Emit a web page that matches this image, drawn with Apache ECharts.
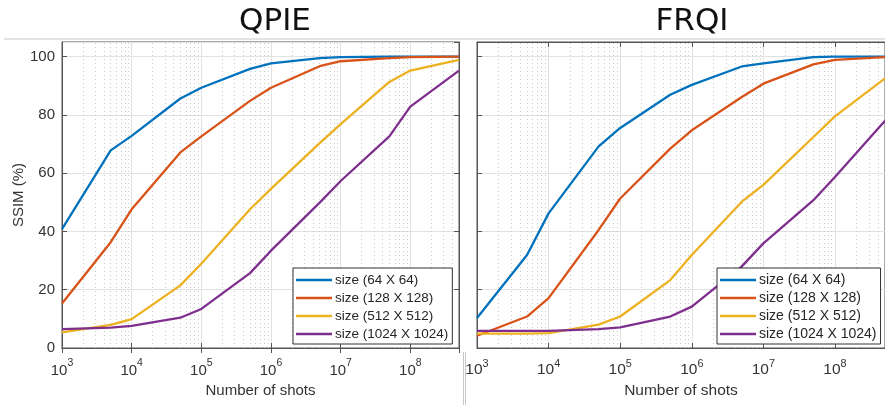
<!DOCTYPE html>
<html>
<head>
<meta charset="utf-8">
<script src="https://cdn.jsdelivr.net/npm/echarts@6/dist/echarts.min.js"></script>
<style>
  html, body { margin: 0; padding: 0; background: #fff; }
  #chart { width: 885px; height: 405px; }
</style>
</head>
<body>
<div id="chart"></div>
<script>
// shots sampled on the x axis (log scale)
var shots = [1e3, 5e3, 1e4, 5e4, 1e5, 5e5, 1e6, 5e6, 1e7, 5e7, 1e8, 5e8]
var sizeNames = ['size (64 X 64)', 'size (128 X 128)', 'size (512 X 512)', 'size (1024 X 1024)']
var panelTitles = ['QPIE', 'FRQI']

// QPIE, SSIM (%)
var qpie64 = [40.8, 67.8, 72.8, 85.6, 89.3, 95.8, 97.7, 99.5, 99.8, 100, 100, 100]
var qpie128 = [15.3, 36.3, 47.6, 67.1, 72.6, 84.8, 89.3, 96.7, 98.4, 99.5, 99.8, 100]
var qpie512 = [5.4, 7.9, 9.9, 21.5, 28.9, 47.6, 54.6, 70.3, 76.8, 91.3, 95.2, 98.9]
var qpie1024 = [6.5, 7.0, 7.6, 10.4, 13.4, 25.7, 33.4, 49.9, 57.3, 72.6, 82.8, 95.2]

// FRQI, SSIM (%)
var frqi64 = [10.3, 31.9, 46.2, 69.2, 75.5, 86.9, 90.3, 96.6, 97.7, 99.8, 100, 100]
var frqi128 = [4.2, 10.8, 17.1, 40.5, 51.3, 68.4, 74.7, 86.1, 90.7, 97.3, 98.9, 99.8]
var frqi512 = [4.9, 4.9, 5.1, 8.0, 10.8, 23.3, 31.9, 50.2, 56.0, 72.4, 79.5, 92.5]
var frqi1024 = [5.9, 5.9, 5.9, 6.5, 7.1, 10.8, 14.2, 28.0, 35.9, 50.7, 58.7, 78.0]

var decades = [3, 4, 5, 6, 7, 8]

var colors = ['#0072BD', '#D95319', '#EDB120', '#7E2F8E']
var font = 'Liberation Sans, Arial, sans-serif'
var textColor = '#333'
var boxColor = '#555'
var gridColor = '#e2e2e2'

var chart = echarts.init(document.getElementById('chart'), null, { renderer: 'canvas', width: 885, height: 405 })

function pairs (ys) {
  return shots.map(function (x, i) { return [x, ys[i]] })
}

// dotted minor grid lines at 2..9 x 10^k
var minorLines = []
decades.forEach(function (d) {
  for (var m = 2; m <= 9; m++) {
    var v = m * Math.pow(10, d)
    if (v < 5e8) minorLines.push({ xAxis: v })
  }
})

function xAxisFor (gi, top, labels, fs, nameGap) {
  return {
    type: 'log',
    gridIndex: gi,
    position: top ? 'top' : 'bottom',
    min: 1e3,
    max: 5e8,
    logBase: 10,
    splitNumber: 6,
    name: labels ? 'Number of shots' : '',
    nameLocation: 'middle',
    nameGap: nameGap,
    nameTextStyle: { fontSize: fs, color: textColor, fontFamily: font },
    axisLine: { show: true, lineStyle: { color: boxColor, width: 1 } },
    axisTick: { show: true, inside: true, length: 5, lineStyle: { color: boxColor } },
    splitLine: { show: !top, lineStyle: { color: gridColor, width: 1 } },
    axisLabel: {
      show: labels,
      showMaxLabel: false,
      margin: 10,
      formatter: function (v) {
        return '{b|10}{s|' + Math.round(Math.log10(v)) + '}'
      },
      rich: {
        b: { fontSize: fs, color: textColor, fontFamily: font, lineHeight: 20, verticalAlign: 'bottom' },
        s: { fontSize: fs * 0.7, color: textColor, fontFamily: font, lineHeight: 20, verticalAlign: 'top' }
      }
    }
  }
}

function yAxisFor (gi, right, labels) {
  return {
    type: 'value',
    gridIndex: gi,
    position: right ? 'right' : 'left',
    min: 0,
    max: 105,
    interval: 20,
    name: labels ? 'SSIM (%)' : '',
    nameLocation: 'middle',
    nameGap: 36,
    nameTextStyle: { fontSize: 15, color: textColor, fontFamily: font },
    axisLine: { show: true, lineStyle: { color: boxColor, width: 1 } },
    axisTick: { show: true, inside: true, length: 5, lineStyle: { color: boxColor } },
    splitLine: { show: !right, lineStyle: { color: gridColor, width: 1 } },
    axisLabel: {
      show: labels,
      showMaxLabel: false,
      margin: 7,
      fontSize: 15,
      color: textColor,
      fontFamily: font
    }
  }
}

var panels = [
  [qpie64, qpie128, qpie512, qpie1024],
  [frqi64, frqi128, frqi512, frqi1024]
]

var series = []
panels.forEach(function (sets, p) {
  // carrier for the dotted minor grid
  series.push({
    type: 'line',
    xAxisIndex: p * 2,
    yAxisIndex: p === 0 ? 0 : 2,
    data: [],
    silent: true,
    z: 1,
    markLine: {
      silent: true,
      symbol: 'none',
      z: 1,
      label: { show: false },
      lineStyle: { type: [1, 3], color: '#c8c8c8', width: 1 },
      data: minorLines
    }
  })
  sets.forEach(function (ys, i) {
    series.push({
      name: sizeNames[i],
      type: 'line',
      xAxisIndex: p * 2,
      yAxisIndex: p === 0 ? 0 : 2,
      data: pairs(ys),
      symbol: 'none',
      z: 3,
      color: colors[i],
      lineStyle: { width: 2.3, color: colors[i] }
    })
  })
})

function legendFor (left, fs) {
  return {
    data: sizeNames.map(function (n) { return { name: n, icon: 'rect' } }),
    left: left,
    top: 268,
    orient: 'vertical',
    z: 10,
    backgroundColor: '#fff',
    borderColor: '#333',
    borderWidth: 1,
    borderRadius: 0,
    padding: [5, 4, 3, 3],
    itemWidth: 36,
    itemHeight: 2.5,
    itemGap: 4,
    selectedMode: false,
    textStyle: { fontSize: fs, lineHeight: 14, color: '#262626', fontFamily: font, padding: [0, 0, 0, -2] }
  }
}

var option = {
  animation: false,
  backgroundColor: '#fff',
  title: [
    { text: panelTitles[0], left: 270, top: 1, textAlign: 'center',
      textStyle: { fontSize: 31, fontWeight: 'normal', color: '#111', fontFamily: 'DejaVu Sans' } },
    { text: panelTitles[1], left: 687, top: 1, textAlign: 'center',
      textStyle: { fontSize: 31, fontWeight: 'normal', color: '#111', fontFamily: 'DejaVu Sans' } }
  ],
  grid: [
    { left: 62, right: 426, top: 42, bottom: 57, show: true, backgroundColor: '#fff', borderColor: boxColor, borderWidth: 1 },
    { left: 477, right: -6, top: 42, bottom: 57, show: true, backgroundColor: '#fff', borderColor: boxColor, borderWidth: 1 }
  ],
  xAxis: [
    xAxisFor(0, false, true, 15, 33),
    xAxisFor(0, true, false, 15, 0),
    xAxisFor(1, false, true, 15.5, 33),
    xAxisFor(1, true, false, 15.5, 0)
  ],
  yAxis: [
    yAxisFor(0, false, true),
    yAxisFor(0, true, false),
    yAxisFor(1, false, false)
  ],
  legend: [legendFor(293, 13.5), legendFor(717, 14)],
  graphic: [
    { type: 'line', shape: { x1: 4, y1: 39, x2: 885, y2: 39 }, style: { stroke: '#c8c8c8', lineWidth: 1 }, z: 0 },
    { type: 'line', shape: { x1: 463.5, y1: 352, x2: 463.5, y2: 405 }, style: { stroke: '#c8c8c8', lineWidth: 1 } },
    { type: 'line', shape: { x1: 465.5, y1: 352, x2: 465.5, y2: 405 }, style: { stroke: '#c8c8c8', lineWidth: 1 } }
  ],
  series: series
}

chart.setOption(option)
</script>
</body>
</html>
